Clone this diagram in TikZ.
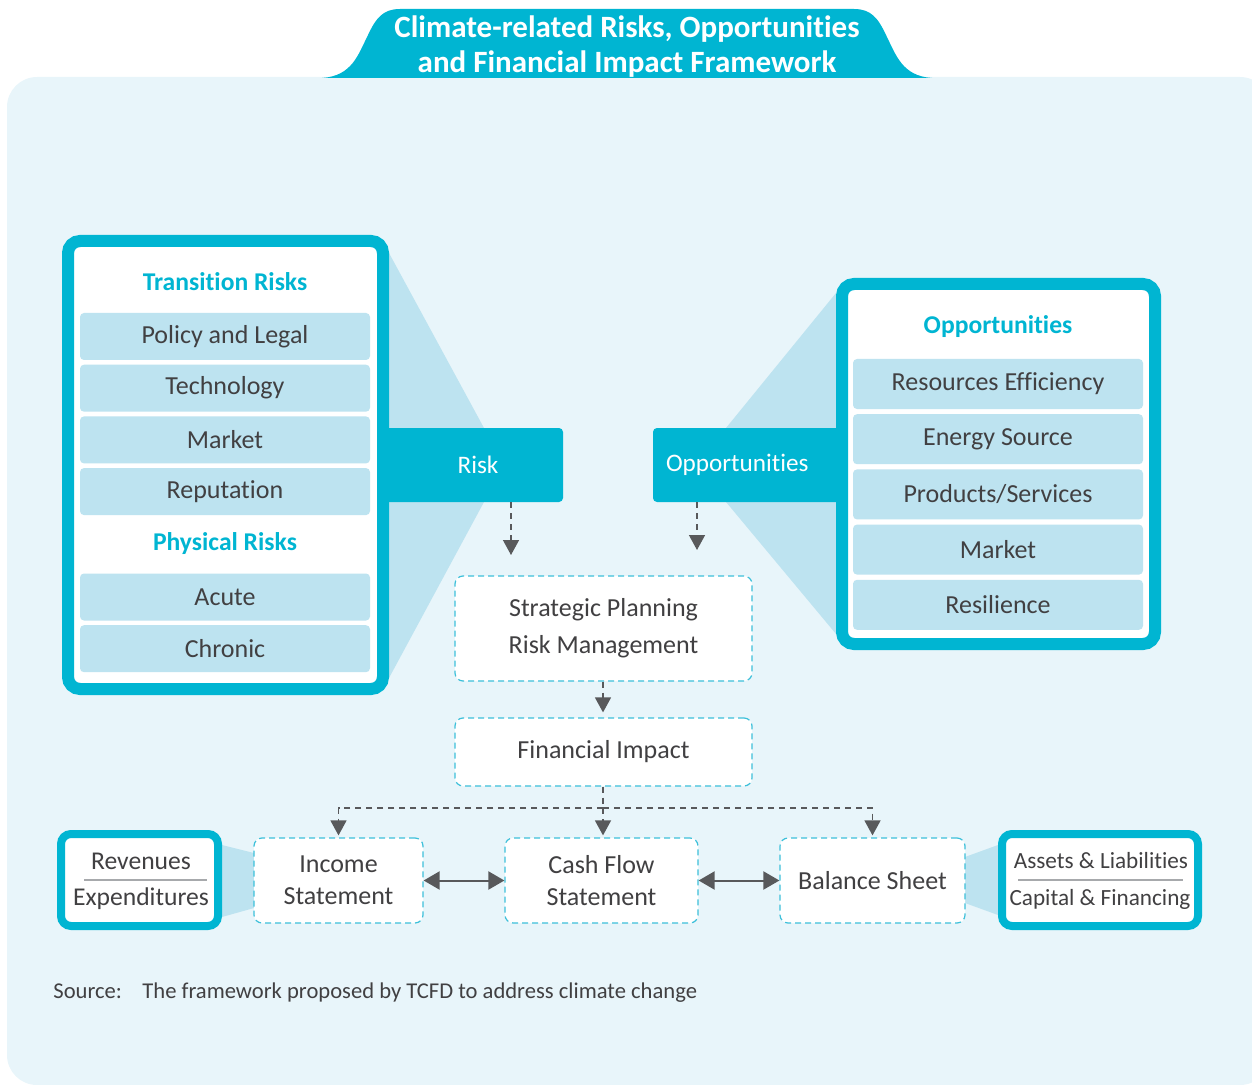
\documentclass[tikz,border=0pt]{standalone}
\usepackage{fontspec}
\setmainfont{Carlito}[Ligatures=NoCommon]
\usetikzlibrary{positioning,arrows.meta}

\definecolor{tcfdcyan}{HTML}{00B5D2}
\definecolor{itemblue}{HTML}{BDE3F0}
\definecolor{pageblue}{HTML}{E8F5FA}
\definecolor{inkgray}{HTML}{414042}
\definecolor{arrowgray}{HTML}{58595B}
\definecolor{dashcyan}{HTML}{3DC0DA}
\definecolor{rulegray}{HTML}{A7A9AC}

\tikzset{
  item/.style={rectangle, rounded corners=2pt, fill=itemblue, minimum width=145pt,
    minimum height=23.5pt, inner sep=0pt, text=inkgray, font=\fontsize{13}{15}\selectfont},
  heading/.style={text=tcfdcyan, inner sep=0pt, font=\fontsize{12.8}{15}\selectfont\bfseries},
  frame/.style={draw=tcfdcyan, line width=6pt, fill=white, rounded corners=6pt, inner sep=0pt},
  tab/.style={fill=tcfdcyan, rounded corners=2pt, text=white, inner sep=0pt,
    minimum height=37pt, font=\fontsize{12.6}{14}\selectfont},
  stage/.style={draw=dashcyan, line width=0.6pt, dash pattern=on 3pt off 2pt, fill=white,
    rounded corners=4pt, inner sep=0pt, align=center, text=inkgray,
    font=\fontsize{13}{18.5}\selectfont},
  plain/.style={inner sep=0pt, text=inkgray, font=\fontsize{12.8}{15}\selectfont},
  funnel/.style={fill=itemblue},
  dashline/.style={draw=arrowgray, line width=0.7pt, dash pattern=on 3pt off 2.5pt},
  dasharrow/.style={dashline, -{Triangle[length=7.5pt,width=8pt]}},
  twoway/.style={draw=arrowgray, line width=1pt,
    {Triangle[length=8pt,width=9pt]}-{Triangle[length=8pt,width=9pt]}},
}

\begin{document}
\begin{tikzpicture}[x=0.5pt, y=-0.5pt, on grid, node distance=25.85pt]
   \useasboundingbox (0,0) rectangle (1252,1085);

   % page and title
   \fill[pageblue, rounded corners=15pt] (7,77) rectangle (1270,1085);
   \fill[tcfdcyan] (322,78) .. controls (352,76) and (358,55) .. (368,35)
     .. controls (376,18) and (383,9) .. (400,9) -- (854,9)
     .. controls (871,9) and (878,18) .. (886,35)
     .. controls (896,55) and (902,76) .. (932,78) -- cycle;
   \node[align=center, text=white, font=\fontsize{15.5}{17.5}\selectfont\bfseries] (title) at (627,47)
     {Climate-related Risks, Opportunities\\and Financial Impact Framework};

   % funnels
   \fill[funnel] (389,253) -- (484,428) -- (484,502) -- (389,678) -- cycle;
   \fill[funnel] (836,293) -- (726,428) -- (726,502) -- (836,634) -- cycle;
   \fill[funnel] (222,845) -- (254,853) -- (254,908) -- (222,917) -- cycle;
   \fill[funnel] (965,857) -- (998,845) -- (998,915) -- (965,903) -- cycle;

   % tabs
   \node[tab, minimum width=89pt] (risktab) at (474,465) {\hspace*{4pt}Risk};
   \node[tab, inner xsep=6.5pt, text width=81.5pt, align=left] (opptab) at (747.5,465) {Opportunities};

   % risk side
   \node[frame, minimum width=157.5pt, minimum height=224pt] (riskbox) at (225.5,465) {};
   \node[heading] (trans) at (225,282) {Transition Risks};
   \node[item] (policy) at (225,336.5) {Policy and Legal};
   \node[item] (tech)   [below=of policy] {Technology};
   \node[item] (market) [below=of tech]   {Market};
   \node[item] (reput)  [below=of market] {Reputation};
   \node[heading] (phys) at (225,544) {Physical Risks};
   \node[item] (acute)  at (225,597) {Acute};
   \node[item] (chronic) [below=of acute] {Chronic};

   % opportunity side
   \node[frame, minimum width=156.5pt, minimum height=180pt] (oppbox) at (998.5,464) {};
   \node[heading] (opphead) at (998,327) {Opportunities};
   \node[item, minimum height=25pt] (resource) at (998,384) {Resources Efficiency};
   \node[item, minimum height=25pt] (energy)  [below=27.6pt of resource] {Energy Source};
   \node[item, minimum height=25pt] (products) [below=27.6pt of energy]  {Products/Services};
   \node[item, minimum height=25pt] (oppmkt)  [below=27.6pt of products] {Market};
   \node[item, minimum height=25pt] (resil)   [below=27.6pt of oppmkt]   {Resilience};

   % flow
   \node[stage, minimum width=148.5pt, minimum height=52.5pt] (plan) at (603.5,628.5)
     {Strategic Planning\\Risk Management};
   \node[stage, minimum width=148.5pt, minimum height=34pt] (impact) at (603.5,752) {Financial Impact};
   \node[stage, minimum width=84.5pt, minimum height=42.5pt, font=\fontsize{13}{16}\selectfont] (income) at (338.5,880.5)
     {Income\\Statement};
   \node[stage, minimum width=96.5pt, minimum height=42.5pt, font=\fontsize{13}{16}\selectfont] (cashflow) at (601.5,880.5)
     {Cash Flow\\Statement};
   \node[stage, minimum width=92.5pt, minimum height=42.5pt] (balance) at (872.5,880.5) {Balance Sheet};

   % statement details
   \node[frame, line width=4pt, rounded corners=5pt, minimum width=78.5pt, minimum height=46pt] (revbox) at (139.5,880) {};
   \node[plain] (revenues) at (141,861) {Revenues};
   \node[plain] (expend) at (141,899) {Expenditures};
   \draw[rulegray, line width=0.6pt] (84,880) -- (207,880);

   \node[frame, line width=4pt, rounded corners=5pt, minimum width=98pt, minimum height=46pt] (assetbox) at (1100,880) {};
   \node[plain, font=\fontsize{11.6}{13}\selectfont] (assets) at (1101,861) {Assets \& Liabilities};
   \node[plain, font=\fontsize{11.6}{13}\selectfont] (capital) at (1100,899) {Capital \& Financing};
   \draw[rulegray, line width=0.6pt] (1018,880) -- (1183,880);

   % connectors
   \coordinate (riskend) at (511,555);
   \coordinate (oppend) at (697,550);
   \coordinate (split) at (603,808);
   \draw[dasharrow] (risktab.south -| riskend) -- (riskend);
   \draw[dasharrow] (opptab.south -| oppend) -- (oppend);
   \draw[dasharrow, shorten >=2.5pt] (plan.south -| split) -- (impact.north -| split);
   \draw[dashline] (impact.south -| split) -- (split);
   \draw[dasharrow, shorten >=1pt] (split) -| (income.north);
   \draw[dasharrow, shorten >=1pt] (split) -- (cashflow.north -| split);
   \draw[dasharrow, shorten >=1pt] (split) -| (balance.north);
   \draw[twoway] (income.east) -- (cashflow.west);
   \draw[twoway] (cashflow.east) -- (balance.west);

   % source
   \node[plain, anchor=base west, font=\fontsize{11.3}{13}\selectfont] (srclabel) at (53,998) {Source:};
   \node[plain, anchor=base west, font=\fontsize{11.3}{13}\selectfont] (srctext) at (142,998)
     {The framework proposed by TCFD to address climate change};
\end{tikzpicture}
\end{document}
